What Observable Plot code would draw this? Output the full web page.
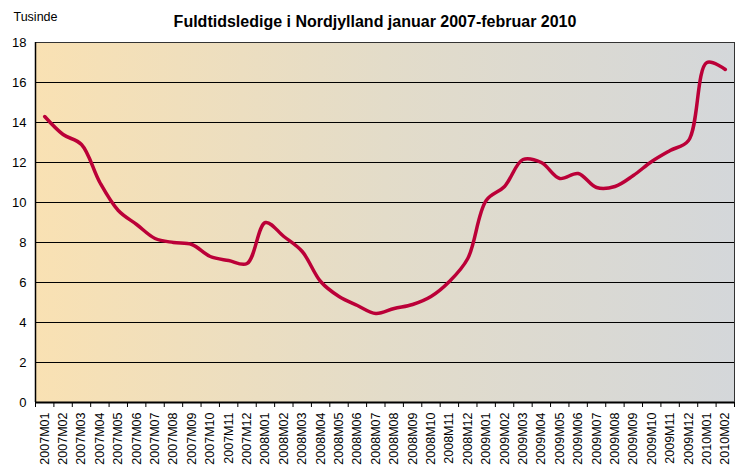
<!DOCTYPE html>
<html><head><meta charset="utf-8">
<script src="https://cdn.jsdelivr.net/npm/d3@7"></script>
<script src="https://cdn.jsdelivr.net/npm/@observablehq/plot@0.6"></script>
<style>html,body{margin:0;padding:0;background:#fff;} svg{display:block}</style>
</head><body><div id="chart"></div>
<script>
const months = ["2007M01","2007M02","2007M03","2007M04","2007M05","2007M06","2007M07","2007M08","2007M09","2007M10","2007M11","2007M12",
  "2008M01","2008M02","2008M03","2008M04","2008M05","2008M06","2008M07","2008M08","2008M09","2008M10","2008M11","2008M12",
  "2009M01","2009M02","2009M03","2009M04","2009M05","2009M06","2009M07","2009M08","2009M09","2009M10","2009M11","2009M12",
  "2010M01","2010M02"];
const values = [14.3, 13.4, 12.9, 11.0, 9.6, 8.9, 8.2, 8.0, 7.9, 7.3, 7.1, 6.95,
  9.0, 8.3, 7.55, 6.05, 5.3, 4.85, 4.45, 4.7, 4.9, 5.3, 6.05, 7.2,
  10.1, 10.8, 12.15, 12.0, 11.2, 11.45, 10.75, 10.8, 11.35, 12.05, 12.6, 13.1,
  17.0, 16.65];
const yTicks = [0, 2, 4, 6, 8, 10, 12, 14, 16, 18];
const title = "Fuldtidsledige i Nordjylland januar 2007-februar 2010";
const yLabel = "Tusinde";

const data = months.map((m, i) => ({i, m, v: values[i]}));
const idx = months.map((_, i) => i);
const bounds = d3.range(months.length + 1).map(i => i - 0.5);

const chart = Plot.plot({
  width: 739, height: 467,
  marginLeft: 35, marginRight: 5, marginTop: 42, marginBottom: 65,
  style: {fontFamily: "'Liberation Sans', Arial, sans-serif", background: "white", color: "#000"},
  x: {domain: [-0.5, months.length - 0.5], axis: null},
  y: {domain: [0, 18], axis: null},
  marks: [
    Plot.frame({fill: "url(#bg)", stroke: null}),
    Plot.ruleY(yTicks.slice(1, -1), {stroke: "#000", strokeWidth: 1}),
    Plot.frame({stroke: "#333", strokeWidth: 1}),
    Plot.ruleX([-0.5], {stroke: "#000", strokeWidth: 1.5}),
    Plot.ruleY([0], {stroke: "#000", strokeWidth: 2}),
    Plot.axisX(bounds, {tickSize: 5, tickFormat: () => "", label: null, strokeWidth: 1}),
    Plot.axisX(idx, {tickSize: 0, tickRotate: -90, tickPadding: 10, tickFormat: i => months[i], fontSize: 12.5, label: null}),
    Plot.axisY(yTicks, {tickSize: 0, tickPadding: 9, fontSize: 13, label: null}),
    Plot.line(data, {x: "i", y: "v", curve: "catmull-rom", stroke: "#bb0038", strokeWidth: 3.5, strokeLinejoin: "round", strokeLinecap: "round"}),
    Plot.text([title], {frameAnchor: "top", dx: -10, dy: -16, lineAnchor: "bottom", fontSize: 16, fontWeight: "bold", fill: "#000"}),
    Plot.text([yLabel], {frameAnchor: "top-left", dx: -22, dy: -22, lineAnchor: "bottom", textAnchor: "start", fontSize: 12.5, fill: "#000"})
  ]
});

const ns = "http://www.w3.org/2000/svg";
const defs = document.createElementNS(ns, "defs");
defs.innerHTML = '<linearGradient id="bg" x1="0" x2="1" y1="0" y2="0">' +
  '<stop offset="0" stop-color="#f9e1b3"/>' +
  '<stop offset="0.5" stop-color="#e3dcc9"/>' +
  '<stop offset="1" stop-color="#d4d7da"/></linearGradient>';
chart.prepend(defs);
document.getElementById("chart").appendChild(chart);
</script>
</body></html>
